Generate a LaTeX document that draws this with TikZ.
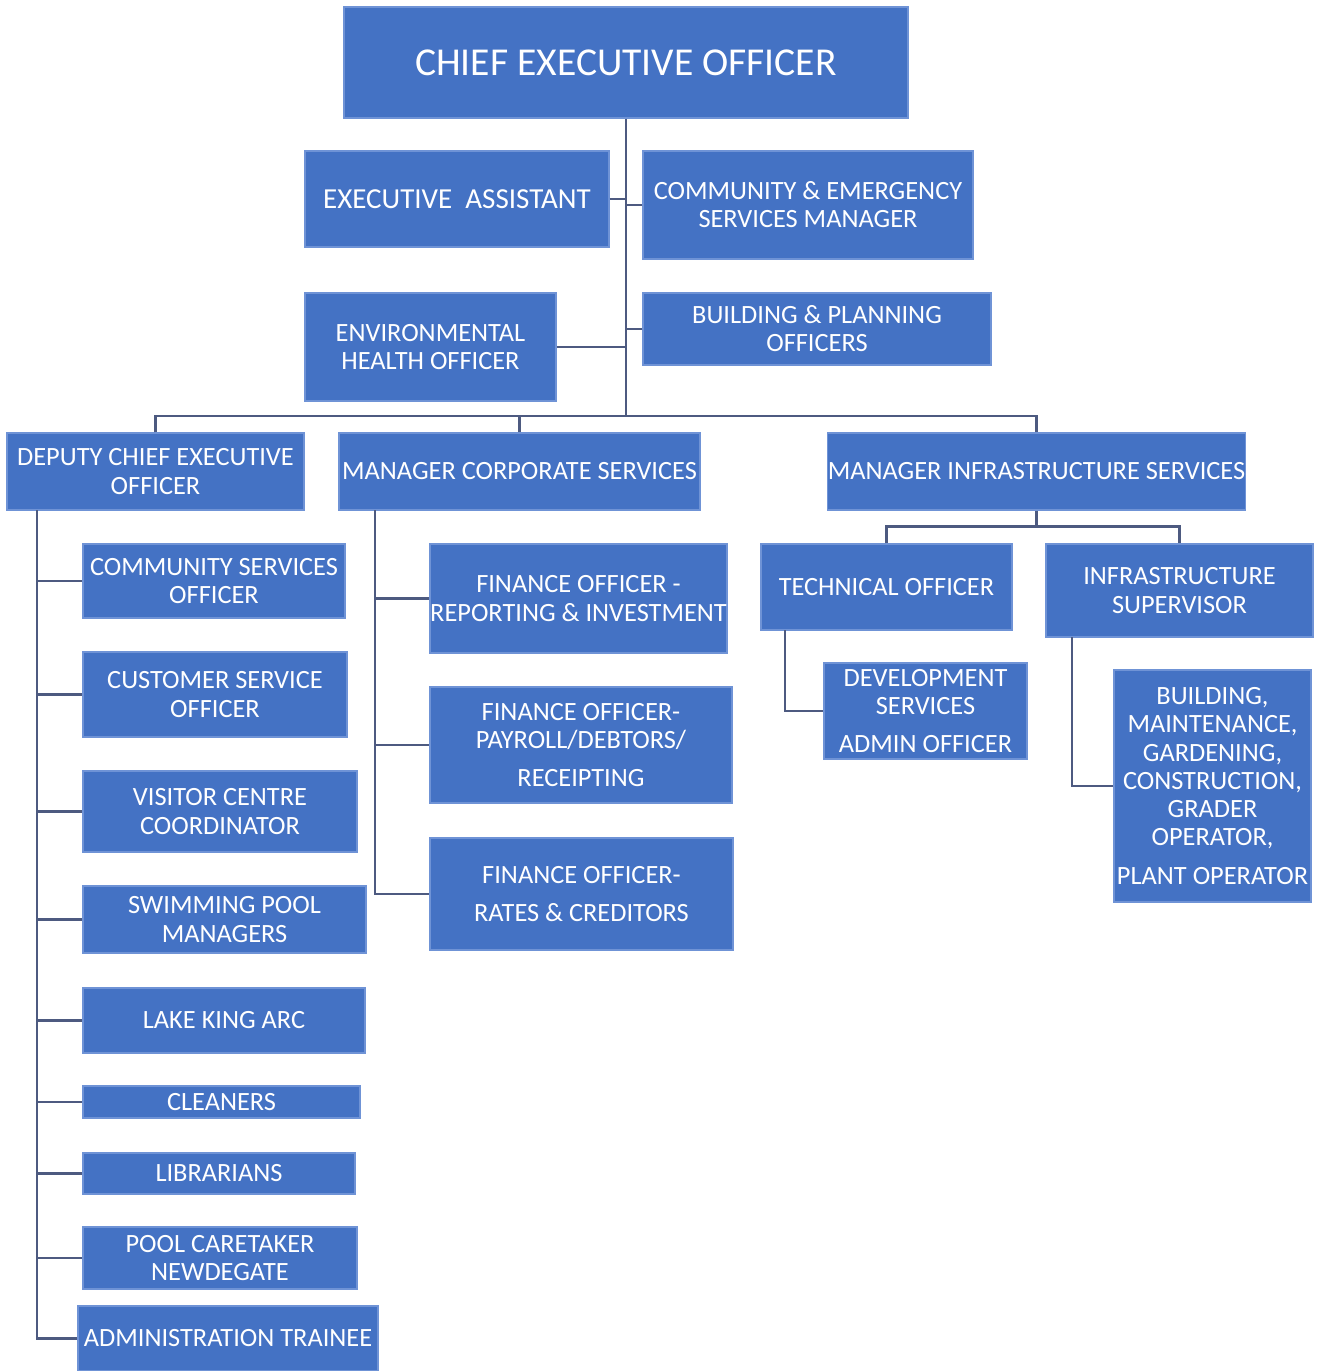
\documentclass[tikz,border=0pt]{standalone}
\usepackage{fontspec}
\setmainfont{Carlito}
\usepackage{xcolor}
\definecolor{boxblue}{HTML}{4472C4}
\definecolor{boxedge}{HTML}{6F93D6}
\definecolor{linkgrey}{HTML}{4D5A80}

\begin{document}
\begin{tikzpicture}[
    role/.style={draw=boxedge, line width=0.6pt, fill=boxblue, text=white,
        align=center, inner sep=0pt,
        font=\fontsize{15}{16}\selectfont},
    link/.style={draw=linkgrey, line width=1.2pt}
  ]
    \useasboundingbox (0,0) rectangle (26.5,-27.42);

    % top levels
    \node[role, minimum width=11.28cm, minimum height=2.22cm,
          font=\fontsize{22.5}{26}\selectfont] (ceo) at (12.52,-1.25) {CHIEF EXECUTIVE OFFICER};
    \node[role, minimum width=6.08cm, minimum height=1.92cm,
          font=\fontsize{16.5}{18}\selectfont] (ea) at (9.14,-3.98) {EXECUTIVE\ \ ASSISTANT};
    \node[role, minimum width=6.60cm, minimum height=2.16cm] (cem) at (16.16,-4.10) {COMMUNITY \& EMERGENCY\\SERVICES MANAGER};
    \node[role, minimum width=5.02cm, minimum height=2.16cm] (eho) at (8.61,-6.94) {ENVIRONMENTAL\\HEALTH OFFICER};
    \node[role, minimum width=6.96cm, minimum height=1.44cm] (bpo) at (16.34,-6.58) {BUILDING \& PLANNING\\OFFICERS};

    \node[role, minimum width=5.94cm, minimum height=1.54cm] (dceo) at (3.11,-9.43) {DEPUTY CHIEF EXECUTIVE\\OFFICER};
    \node[role, minimum width=7.22cm, minimum height=1.54cm] (mcs) at (10.39,-9.43) {MANAGER CORPORATE SERVICES};
    \node[role, minimum width=8.34cm, minimum height=1.54cm] (mis) at (20.73,-9.43) {MANAGER INFRASTRUCTURE SERVICES};

    % deputy team
    \node[role, minimum width=5.24cm, minimum height=1.48cm] (cso) at (4.28,-11.62) {COMMUNITY SERVICES\\OFFICER};
    \node[role, minimum width=5.28cm, minimum height=1.70cm] (cuso) at (4.30,-13.89) {CUSTOMER SERVICE\\OFFICER};
    \node[role, minimum width=5.48cm, minimum height=1.62cm] (vcc) at (4.40,-16.23) {VISITOR CENTRE\\COORDINATOR};
    \node[role, minimum width=5.66cm, minimum height=1.34cm] (spm) at (4.49,-18.39) {SWIMMING POOL\\MANAGERS};
    \node[role, minimum width=5.64cm, minimum height=1.30cm] (lka) at (4.48,-20.41) {LAKE KING ARC};
    \node[role, minimum width=5.54cm, minimum height=0.64cm] (cln) at (4.43,-22.04) {CLEANERS};
    \node[role, minimum width=5.44cm, minimum height=0.82cm] (lib) at (4.38,-23.47) {LIBRARIANS};
    \node[role, minimum width=5.48cm, minimum height=1.24cm] (pcn) at (4.40,-25.16) {POOL CARETAKER\\NEWDEGATE};
    \node[role, minimum width=6.00cm, minimum height=1.30cm] (adt) at (4.56,-26.77) {ADMINISTRATION TRAINEE};

    % corporate team
    \node[role, minimum width=5.94cm, minimum height=2.18cm] (fori) at (11.57,-11.97) {FINANCE OFFICER -\\REPORTING \& INVESTMENT};
    \node[role, minimum width=6.04cm, minimum height=2.32cm] (fopd) at (11.62,-14.90) {FINANCE OFFICER-\\PAYROLL/DEBTORS/\\[6pt]RECEIPTING};
    \node[role, minimum width=6.06cm, minimum height=2.24cm] (forc) at (11.63,-17.88) {FINANCE OFFICER-\\[6pt]RATES \& CREDITORS};

    % infrastructure team
    \node[role, minimum width=5.02cm, minimum height=1.72cm] (to) at (17.73,-11.74) {TECHNICAL OFFICER};
    \node[role, minimum width=5.34cm, minimum height=1.86cm] (is) at (23.59,-11.81) {INFRASTRUCTURE\\SUPERVISOR};
    \node[role, minimum width=4.06cm, minimum height=1.92cm] (dsa) at (18.51,-14.22) {DEVELOPMENT\\SERVICES\\[6pt]ADMIN OFFICER};
    \node[role, minimum width=3.94cm, minimum height=4.64cm] (bmg) at (24.25,-15.72) {BUILDING,\\MAINTENANCE,\\GARDENING,\\CONSTRUCTION,\\GRADER\\OPERATOR,\\[6pt]PLANT OPERATOR};

    % connectors
    \coordinate (bus) at (12.52,-8.32);
    \coordinate (dtop) at (0.74,-10.20);
    \coordinate (ctop) at (7.50,-10.20);
    \coordinate (ttop) at (15.70,-12.60);
    \coordinate (itop) at (21.44,-12.74);

    \draw[link] (ceo.south) -- (bus);
    \draw[link] (ea.east) -- (ea.east -| bus);
    \draw[link] (cem.west) -- (cem.west -| bus);
    \draw[link] (eho.east) -- (eho.east -| bus);
    \draw[link] (bpo.west) -- (bpo.west -| bus);
    \draw[link] (dceo.north) |- (bus) -| (mis.north);
    \draw[link] (mcs.north) -- (mcs.north |- bus);

    \foreach \n in {cso,cuso,vcc,spm,lka,cln,lib,pcn,adt}
        \draw[link] (dtop) |- (\n.west);
    \foreach \n in {fori,fopd,forc}
        \draw[link] (ctop) |- (\n.west);

    \draw[link] (to.north) -- ++(0,0.34) -| (is.north);
    \draw[link] (mis.south) -- ++(0,-0.34);
    \draw[link] (ttop) |- (dsa.west);
    \draw[link] (itop) |- (bmg.west);
\end{tikzpicture}
\end{document}
